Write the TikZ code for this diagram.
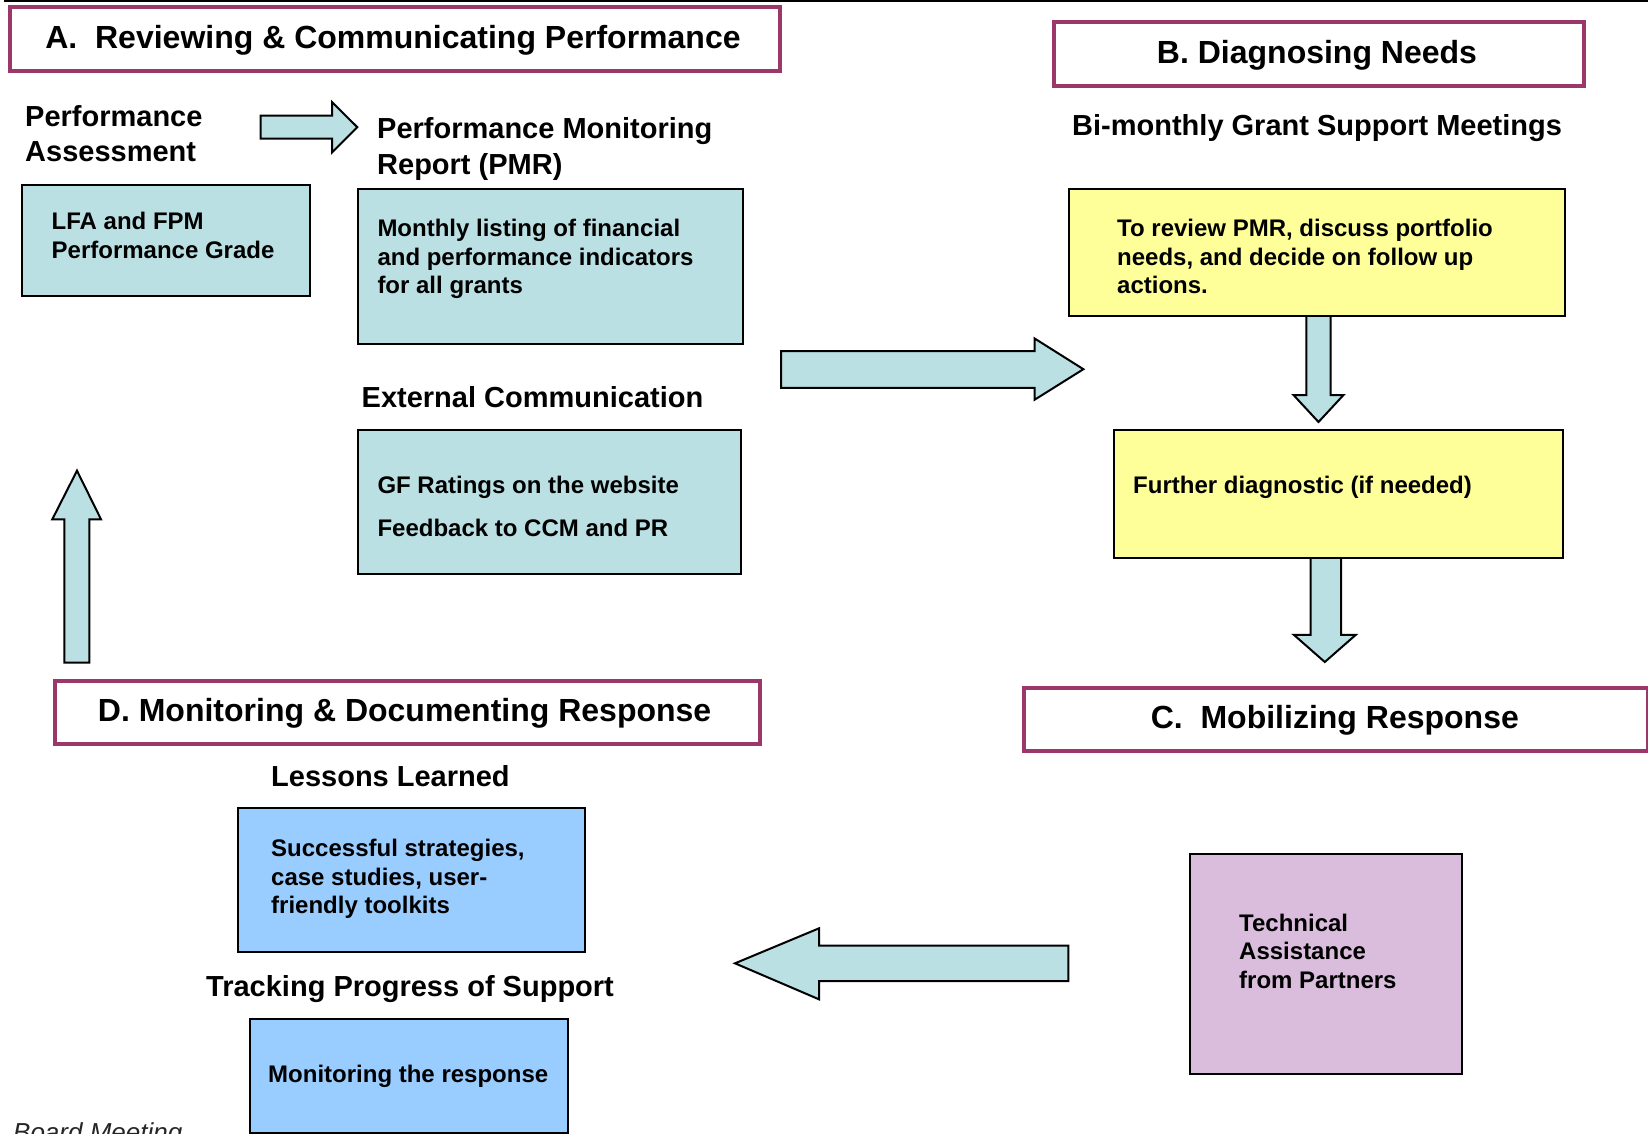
\documentclass[tikz,border=0pt]{standalone}
\usepackage{fontspec}
\setmainfont{Liberation Sans}
\definecolor{tealfill}{RGB}{186,224,227}
\definecolor{yelfill}{RGB}{255,255,153}
\definecolor{bluefill}{RGB}{153,204,255}
\definecolor{purpfill}{RGB}{218,189,221}
\definecolor{framecol}{RGB}{155,55,105}
\tikzset{
 frame/.style={draw=framecol, line width=4pt, fill=white, inner sep=0pt, anchor=north west},
 tbox/.style={draw=black, line width=2pt, inner sep=0pt, anchor=north west},
 barrow/.style={draw=black, line width=2pt, fill=tealfill, line join=miter},
 title/.style={font=\fontsize{32}{38}\selectfont\bfseries, anchor=base, inner sep=0pt},
 head/.style={font=\fontsize{29}{35.7}\selectfont\bfseries, anchor=base west, align=left, inner sep=0pt},
 btext/.style={font=\fontsize{24}{28.4}\selectfont\bfseries, anchor=base west, align=left, inner sep=0pt},
}
\begin{document}
\begin{tikzpicture}[x=1pt,y=-1pt]
\useasboundingbox (0,0) rectangle (1648,1133);
% top rule
\draw[line width=2.5pt] (4,1.2) -- (1648,1.2);

% section frames
\node[frame, minimum width=769.3pt, minimum height=64.1pt] (fA) at (8.4,5.3) {};
\node[title] (tA) at (393,48.3) {A.\ \ Reviewing \& Communicating Performance};
\node[frame, minimum width=529.8pt, minimum height=64pt] (fB) at (1052,20) {};
\node[title] (tB) at (1317,63) {B. Diagnosing Needs};
\node[frame, minimum width=624.4pt, minimum height=63.1pt] (fC) at (1021.6,686.3) {};
\node[title] (tC) at (1334.8,728.3) {C.\ \ Mobilizing Response};
\node[frame, minimum width=705.3pt, minimum height=63pt] (fD) at (52.5,679) {};
\node[title] (tD) at (404.6,721) {D. Monitoring \& Documenting Response};

% headings (multi-line nodes: base = last line)
\node[head] (hPA) at (25,161.7) {Performance\\Assessment};
\node[head] (hPMR) at (377,174.1) {Performance Monitoring\\Report (PMR)};
\node[head] (hEC) at (361.5,407.7) {External Communication};
\node[head] (hBM) at (1072,135.4) {Bi-monthly Grant Support Meetings};
\node[head] (hLL) at (271,786) {Lessons Learned};
\node[head] (hTP) at (206,996.2) {Tracking Progress of Support};

% arrows
\draw[barrow] (260.6,115.6) -- (332,115.6) -- (332,102) -- (357.3,127.2) -- (332,152.4) -- (332,138.7) -- (260.6,138.7) -- cycle;
\draw[barrow] (781,351) -- (1034.5,351) -- (1034.5,338.4) -- (1083.4,369.2) -- (1034.5,399.8) -- (1034.5,387.8) -- (781,387.8) -- cycle;
\draw[barrow] (1306.4,315.3) -- (1330.5,315.3) -- (1330.5,395) -- (1343.5,395) -- (1318.5,422) -- (1293.5,395) -- (1306.4,395) -- cycle;
\draw[barrow] (1310.6,557) -- (1341,557) -- (1341,634.8) -- (1355.8,634.8) -- (1324.8,662) -- (1293.8,634.8) -- (1310.6,634.8) -- cycle;
\draw[barrow] (1068.3,945.7) -- (819,945.7) -- (819,928.3) -- (735,963.3) -- (819,999.3) -- (819,981) -- (1068.3,981) -- cycle;
\draw[barrow] (64.3,662.7) -- (64.3,519.3) -- (52.3,519.3) -- (77,470.7) -- (101,519.3) -- (89.3,519.3) -- (89.3,662.7) -- cycle;

% content boxes
\node[tbox, fill=tealfill, minimum width=288pt, minimum height=111.3pt] (lfa) at (21,184) {};
\node[btext] (lfaT) at (51.5,258) {LFA and FPM\\Performance Grade};
\node[tbox, fill=tealfill, minimum width=384.7pt, minimum height=154.6pt] (pmr) at (357.3,188) {};
\node[btext] (pmrT) at (377.3,293.4) {Monthly listing of financial\\and performance indicators\\for all grants};
\node[tbox, fill=tealfill, minimum width=382.7pt, minimum height=144pt] (gf) at (357.3,428.8) {};
\node[btext] (gfT1) at (377.3,493.1) {GF Ratings on the website};
\node[btext] (gfT2) at (377.3,536.2) {Feedback to CCM and PR};
\node[tbox, fill=yelfill, minimum width=496.2pt, minimum height=127.3pt] (y1) at (1067.8,188) {};
\node[btext] (y1T) at (1117,293.4) {To review PMR, discuss portfolio\\needs, and decide on follow up\\actions.};
\node[tbox, fill=yelfill, minimum width=448.8pt, minimum height=128.2pt] (y2) at (1113,428.8) {};
\node[btext] (y2T) at (1133,493.1) {Further diagnostic (if needed)};
\node[tbox, fill=purpfill, minimum width=272.3pt, minimum height=220pt] (ta) at (1188.7,853.4) {};
\node[btext] (taT) at (1239,988.2) {Technical\\Assistance\\from Partners};
\node[tbox, fill=bluefill, minimum width=347.9pt, minimum height=144pt] (b1) at (236.5,807) {};
\node[btext] (b1T) at (271,913.4) {Successful strategies,\\case studies, user-\\friendly toolkits};
\node[tbox, fill=bluefill, minimum width=317.5pt, minimum height=113.6pt] (b2) at (249,1018.4) {};
\node[btext] (b2T) at (268,1082.6) {Monitoring the response};

% cut-off footer text
\node[font=\fontsize{26}{30}\selectfont\itshape, anchor=base west, inner sep=0pt, text=black!85] (bm) at (13,1141) {Board Meeting};
\end{tikzpicture}
\end{document}
